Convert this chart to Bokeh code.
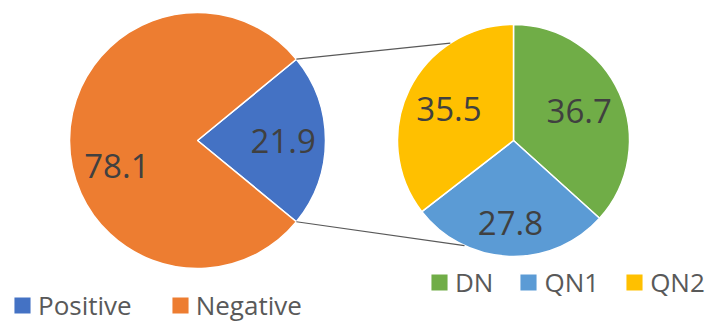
import numpy as np
from bokeh.plotting import figure
from bokeh.models import ColumnDataSource, Range1d, Legend, LegendItem
from bokeh.core.properties import value
from bokeh.embed import file_html
from bokeh.resources import INLINE

# ---- data ----
main_labels = ["Positive", "Negative"]
main_values = [21.9, 78.1]
main_colors = ["#4472C4", "#ED7D31"]

sub_labels = ["DN", "QN1", "QN2"]
sub_values = [36.7, 27.8, 35.5]
sub_colors = ["#70AD47", "#5B9BD5", "#FFC000"]

# ---- layout ----
W, H = 712, 323
FONT = "Open Sans"
p = figure(width=W, height=H, x_range=Range1d(0, W), y_range=Range1d(0, H),
           output_backend="svg", toolbar_location=None,
           x_axis_location=None, y_axis_location=None,
           min_border=0, outline_line_color=None)
p.grid.visible = False

lcx, lcy, lr = 197, H - 140, 128
rcx, rcy, rr = 513, H - 140, 116

# main pie: Positive slice centred on the right
mfr = np.array(main_values) / sum(main_values) * 2 * np.pi
mstart = -mfr[0] / 2 + np.concatenate([[0], np.cumsum(mfr)[:-1]])
mend = mstart + mfr
msrc = ColumnDataSource(dict(start=mstart, end=mend, color=main_colors, label=main_labels))
r_main = p.wedge(x=lcx, y=lcy, radius=lr, start_angle="start", end_angle="end",
                 fill_color="color", line_color="white", line_width=1.5, source=msrc)

# sub pie: clockwise from 12 o'clock
sfr = np.array(sub_values) / sum(sub_values) * 2 * np.pi
scum = np.concatenate([[0], np.cumsum(sfr)])
sstart = np.pi / 2 - scum[:-1]
send = np.pi / 2 - scum[1:]
ssrc = ColumnDataSource(dict(start=sstart, end=send, color=sub_colors, label=sub_labels))
r_sub = p.wedge(x=rcx, y=rcy, radius=rr, start_angle="start", end_angle="end",
                direction="clock", fill_color="color", line_color="white",
                line_width=1.5, source=ssrc)

# connector lines
conn_angles = np.radians([123, -115])
x0 = [lcx + lr * np.cos(mend[0]), lcx + lr * np.cos(mstart[0])]
y0 = [lcy + lr * np.sin(mend[0]), lcy + lr * np.sin(mstart[0])]
x1 = list(rcx + rr * np.cos(conn_angles))
y1 = list(rcy + rr * np.sin(conn_angles))
p.segment(x0=x0, y0=y0, x1=x1, y1=y1, line_color="#595959", line_width=1.2)

# data labels
mmid = (mstart + mend) / 2
m_rf = [0.67, 0.63]
m_dy = [0, -25]
mlx = lcx + np.array(m_rf) * lr * np.cos(mmid)
mly = lcy + np.array(m_rf) * lr * np.sin(mmid) + np.array(m_dy)
p.text(x=mlx, y=mly, text=[f"{v:.1f}" for v in main_values],
       text_font=value(FONT), text_font_size="33px", text_color="#404040",
       text_align="center", text_baseline="middle")

smid = (sstart + send) / 2
s_rf = [0.62, 0.71, 0.62]
slx = rcx + np.array(s_rf) * rr * np.cos(smid)
sly = rcy + np.array(s_rf) * rr * np.sin(smid)
p.text(x=slx, y=sly, text=[f"{v:.1f}" for v in sub_values],
       text_font=value(FONT), text_font_size="33px", text_color="#404040",
       text_align="center", text_baseline="middle")

# legends
def make_legend(renderer, labels, loc, spacing):
    items = [LegendItem(label=l, renderers=[renderer], index=i) for i, l in enumerate(labels)]
    return Legend(items=items, orientation="horizontal", location=loc,
                  label_text_font=FONT, label_text_font_size="26px",
                  label_text_color="#595959", glyph_width=22, glyph_height=22,
                  label_standoff=5, spacing=spacing, padding=0, margin=0,
                  border_line_color=None, background_fill_alpha=0)

p.add_layout(make_legend(r_main, main_labels, (11, 0), 37))
p.add_layout(make_legend(r_sub, sub_labels, (428, 23), 24))

open("out.html", "w").write(file_html(p, INLINE))
